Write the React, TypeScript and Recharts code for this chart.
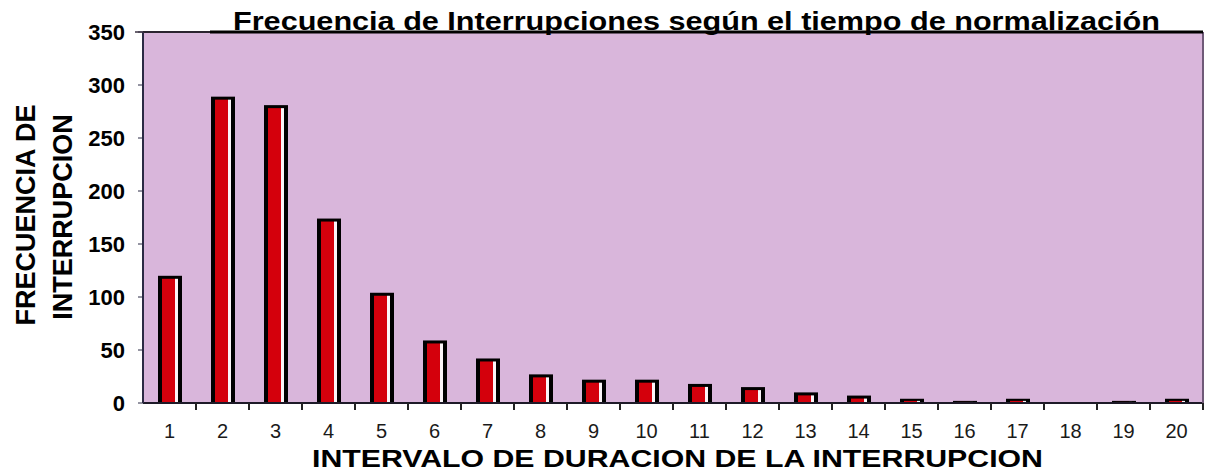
import React from 'react';
import { BarChart, Bar, XAxis, YAxis, CartesianGrid, ReferenceLine } from 'recharts';

const categories = ['1','2','3','4','5','6','7','8','9','10','11','12','13','14','15','16','17','18','19','20'];
const frequencies = [120, 289, 281, 174, 104, 59, 42, 27, 22, 22, 18, 15, 10, 7, 4, 2, 4, 0, 2, 4];
const yTicks = [0, 50, 100, 150, 200, 250, 300, 350];

const TITLE = 'Frecuencia de Interrupciones según el tiempo de normalización';
const X_TITLE = 'INTERVALO DE DURACION DE LA INTERRUPCION';
const Y_TITLE_1 = 'FRECUENCIA DE';
const Y_TITLE_2 = 'INTERRUPCION';

const data = categories.map((c, i) => ({ cat: c, value: frequencies[i] }));

const W = 1205;
const H = 472;
const MARGIN = { top: 32, right: 0, bottom: 0, left: 0 };
const X_HEIGHT = 69;
const Y_WIDTH = 143;
const R_WIDTH = 2;
const BAND = (W - MARGIN.left - Y_WIDTH - R_WIDTH - MARGIN.right) / categories.length;
const FONT = '"Liberation Sans", Arial, Helvetica, sans-serif';

const BarShape = (props: any) => {
  const { x, y, width, height } = props;
  if (!height || height <= 0) return null;
  const b = Math.min(3, height / 2);
  return (
    <g>
      <rect x={x} y={y} width={width} height={height} fill="#000" />
      <rect x={x + 4} y={y + b} width={Math.max(0, width - 11)} height={Math.max(0, height - b)} fill="#d4000c" />
      <rect x={x + width - 7} y={y + b} width={3} height={Math.max(0, height - b)} fill="#fbf4f8" />
    </g>
  );
};

const XTick = (props: any) => {
  const { x, y, payload } = props;
  const tx = x + BAND / 2;
  return (
    <g>
      <line x1={tx} x2={tx} y1={y} y2={y + 7} stroke="#222" strokeWidth={2} />
      <text x={x} y={y + 35} textAnchor="middle" fontSize={20} fill="#1a1a1a" fontFamily={FONT}>
        {payload.value}
      </text>
    </g>
  );
};

export default function App() {
  return (
    <div style={{ position: 'absolute', left: 0, top: 0, width: W, height: H, background: '#fff' }}>
      <BarChart width={W} height={H} data={data} margin={MARGIN} barSize={24}>
        <CartesianGrid vertical={false} stroke="#4a4450" strokeWidth={1} fill="#d9b6db" />
        <XAxis
          dataKey="cat"
          height={X_HEIGHT}
          tick={<XTick />}
          tickLine={false}
          tickSize={0}
          tickMargin={0}
          axisLine={{ stroke: '#1e1a28', strokeWidth: 2 }}
          interval={0}
        />
        <YAxis
          yAxisId="left"
          width={Y_WIDTH}
          domain={[0, 350]}
          ticks={yTicks}
          interval={0}
          tickSize={5}
          tickMargin={13}
          tickLine={{ stroke: '#2b2a44' }}
          axisLine={{ stroke: '#2b2a44', strokeWidth: 2 }}
          tick={{ fontSize: 22, fontWeight: 'bold', fill: '#000', fontFamily: FONT }}
        />
        <YAxis
          yAxisId="right"
          orientation="right"
          width={R_WIDTH}
          tick={false}
          tickLine={false}
          axisLine={{ stroke: '#6f5a78', strokeWidth: 2 }}
        />
        <ReferenceLine yAxisId="left" y={350} stroke="#000" strokeWidth={2} />
        <Bar yAxisId="left" dataKey="value" shape={<BarShape />} isAnimationActive={false} />
      </BarChart>
      <svg
        width={W}
        height={H}
        style={{ position: 'absolute', left: 0, top: 0, pointerEvents: 'none' }}
        fontFamily={FONT}
      >
        <line x1={210} x2={1203} y1={32} y2={32} stroke="#000" strokeWidth={3} />
        <line x1={135} x2={210} y1={32} y2={32} stroke="#3a3040" strokeWidth={1.5} />
        <text x={233} y={30} fontSize={26} fontWeight="bold" fill="#000" textLength={927} lengthAdjust="spacingAndGlyphs">
          {TITLE}
        </text>
        <text x={312} y={467} fontSize={23} fontWeight="bold" fill="#000" textLength={731} lengthAdjust="spacingAndGlyphs">
          {X_TITLE}
        </text>
        <text transform="translate(35,215) rotate(-90)" textAnchor="middle" fontSize={27} fontWeight="bold" fill="#000">
          {Y_TITLE_1}
        </text>
        <text transform="translate(72,217) rotate(-90)" textAnchor="middle" fontSize={27} fontWeight="bold" fill="#000">
          {Y_TITLE_2}
        </text>
      </svg>
    </div>
  );
}
